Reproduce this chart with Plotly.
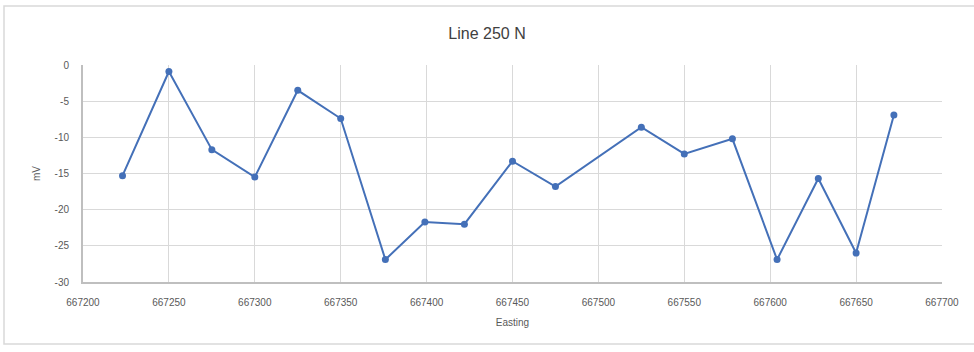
import plotly.graph_objects as go

easting = [667223, 667250, 667275, 667300, 667325, 667350, 667376, 667399, 667422,
           667450, 667475, 667525, 667550, 667578, 667604, 667628, 667650, 667672]
mv = [-15.3, -0.9, -11.7, -15.5, -3.5, -7.4, -26.9, -21.7, -22.0,
      -13.3, -16.8, -8.6, -12.3, -10.2, -26.9, -15.7, -26.0, -6.9]

x_ticks = [667200, 667250, 667300, 667350, 667400, 667450, 667500, 667550, 667600, 667650, 667700]
y_ticks = [0, -5, -10, -15, -20, -25, -30]
y_tick_text = ["0", "-5", "-10", "-15", "-20", "-25", "-30"]

title_text = "Line 250 N"
x_title = "Easting"
y_title = "mV"

fig = go.Figure()
fig.add_trace(go.Scatter(
    x=easting, y=mv, mode="lines+markers",
    line=dict(color="#4470B8", width=2),
    marker=dict(color="#4470B8", size=7),
    showlegend=False,
))

font_family = "Liberation Sans Narrow, Liberation Sans, Arial, sans-serif"
fig.update_layout(
    width=974, height=352,
    margin=dict(l=83, r=32, t=65, b=70),
    paper_bgcolor="white", plot_bgcolor="white",
    title=dict(text=title_text, x=0.5, xanchor="center", y=0.905, yanchor="middle",
               font=dict(family=font_family, size=16, color="#404040")),
    font=dict(family=font_family, color="#595959", size=10),
    xaxis=dict(range=[667200, 667700], tickvals=x_ticks,
               ticktext=[str(v) for v in x_ticks],
               showgrid=True, gridcolor="#d9d9d9", gridwidth=1,
               showline=True, linecolor="#bfbfbf", linewidth=2,
               ticks="", zeroline=False, ticklabelstandoff=10,
               title=dict(text=x_title, font=dict(size=10, color="#595959"), standoff=12),
               tickfont=dict(size=10, color="#595959")),
    yaxis=dict(range=[-30, 0], tickvals=y_ticks, ticktext=y_tick_text,
               showgrid=True, gridcolor="#d9d9d9", gridwidth=1,
               showline=True, linecolor="#bfbfbf", linewidth=2,
               ticks="", zeroline=False, ticklabelstandoff=10,
               title=dict(text=y_title, font=dict(size=10, color="#595959"), standoff=12),
               tickfont=dict(size=10, color="#595959")),
    shapes=[dict(type="rect", xref="paper", yref="paper",
                 x0=-79/859, x1=1 + 40/859, y0=-(344 - 282) / 217, y1=1 + (65 - 6) / 217,
                 line=dict(color="#d9d9d9", width=1.5), layer="below")],
)

fig.write_html("out.html")
